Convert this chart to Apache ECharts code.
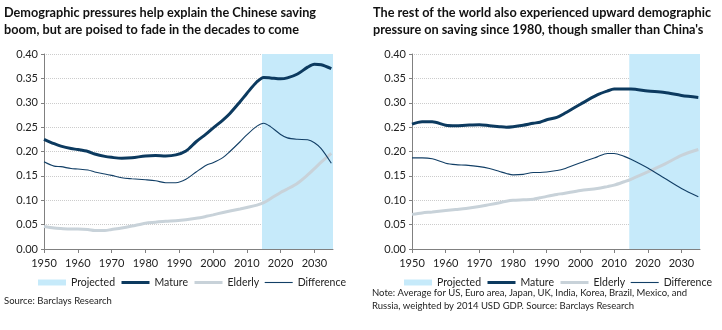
<!DOCTYPE html>
<html><head><meta charset="utf-8">
<script src="https://cdn.jsdelivr.net/npm/echarts@6/dist/echarts.min.js"></script>
<style>html,body{margin:0;padding:0;background:#fff}#c{width:722px;height:330px}</style>
</head><body><div id="c"></div>
<script>
// ---- Data ----
var titleCN = "Demographic pressures help explain the Chinese saving\nboom, but are poised to fade in the decades to come";
var titleWorld = "The rest of the world also experienced upward demographic\npressure on saving since 1980, though smaller than China's";
var sourceCN = "Source: Barclays Research";
var sourceWorld = "Note: Average for US, Euro area, Japan, UK, India, Korea, Brazil, Mexico, and\nRussia, weighted by 2014 USD GDP. Source: Barclays Research";
var legendNames = ["Projected", "Mature", "Elderly", "Difference"];
var yTicks = [0, 0.05, 0.10, 0.15, 0.20, 0.25, 0.30, 0.35, 0.40];
var xTicks = [1950, 1960, 1970, 1980, 1990, 2000, 2010, 2020, 2030];
var projectedRange = [2014.5, 2035.5];

var yearsCN = [1950,1953,1955,1958,1960,1963,1965,1968,1970,1973,1976,1980,1983,1986,1989,1992,1995,1998,2000,2003,2005,2008,2010,2013,2015,2017,2020,2022,2025,2028,2030,2032,2035];
var matureCN = [0.225,0.216,0.211,0.206,0.204,0.200,0.195,0.190,0.188,0.186,0.187,0.191,0.192,0.191,0.193,0.201,0.220,0.236,0.248,0.265,0.278,0.302,0.319,0.343,0.352,0.351,0.349,0.351,0.359,0.373,0.379,0.378,0.370];
var elderlyCN = [0.046,0.043,0.042,0.041,0.041,0.040,0.038,0.038,0.040,0.043,0.047,0.053,0.055,0.057,0.058,0.060,0.063,0.067,0.070,0.075,0.078,0.082,0.085,0.090,0.095,0.103,0.116,0.123,0.135,0.152,0.165,0.178,0.196];
var diffCN = [0.179,0.170,0.169,0.165,0.164,0.162,0.158,0.154,0.151,0.146,0.144,0.142,0.140,0.136,0.136,0.143,0.158,0.172,0.177,0.188,0.200,0.220,0.234,0.252,0.258,0.251,0.235,0.228,0.225,0.224,0.218,0.206,0.176];

var yearsWorld = [1950,1953,1956,1960,1963,1966,1970,1973,1976,1978,1980,1983,1986,1988,1990,1993,1995,2000,2005,2008,2010,2013,2015,2020,2025,2030,2035];
var matureWorld = [0.256,0.261,0.261,0.254,0.253,0.254,0.255,0.253,0.251,0.250,0.251,0.254,0.258,0.260,0.265,0.270,0.277,0.297,0.316,0.324,0.328,0.328,0.328,0.324,0.321,0.315,0.311];
var elderlyWorld = [0.071,0.074,0.076,0.079,0.081,0.083,0.087,0.091,0.095,0.098,0.100,0.101,0.102,0.105,0.108,0.112,0.114,0.120,0.124,0.128,0.131,0.138,0.143,0.158,0.174,0.192,0.204];
var diffWorld = [0.187,0.187,0.185,0.176,0.173,0.172,0.169,0.165,0.159,0.155,0.152,0.153,0.157,0.157,0.158,0.161,0.164,0.177,0.189,0.196,0.196,0.190,0.184,0.166,0.145,0.124,0.107];

// ---- Styles ----
var FONT = "Lato, 'Open Sans', sans-serif";
var C_MATURE = "#0c3a5f", C_ELDERLY = "#c8d2d9", C_DIFF = "#123f66", C_PROJ = "#c6eafa";

function pairs(xs, ys){ return xs.map(function(x,i){ return [x, ys[i]]; }); }

function axesFor(i){
  return {
    x: {
      type: "value", gridIndex: i, min: 1950, max: projectedRange[1],
      axisLine: {show: true, lineStyle: {color: "#808080", width: 1}},
      axisTick: {show: true, length: 4, lineStyle: {color: "#808080"}, customValues: xTicks},
      axisLabel: {customValues: xTicks, color: "#222", fontSize: 11, fontFamily: FONT, margin: 9,
        formatter: function(v){ return String(Math.round(v)); }},
      splitLine: {show: false}
    },
    y: {
      type: "value", gridIndex: i, min: 0, max: 0.40, interval: 0.05,
      axisLine: {show: true, lineStyle: {color: "#808080", width: 1}},
      axisTick: {show: true, length: 3, lineStyle: {color: "#808080"}},
      axisLabel: {color: "#222", fontSize: 11, fontFamily: FONT, margin: 6,
        formatter: function(v){ return v.toFixed(2); }},
      splitLine: {show: true, lineStyle: {color: "#cccccc", type: [1,1], width: 1}}
    }
  };
}
var a0 = axesFor(0), a1 = axesFor(1);

function seriesFor(i, years, m, e, d){
  return [
    {name: "Projected", type: "line", xAxisIndex: i, yAxisIndex: i, data: [], symbol: "none",
      itemStyle: {color: C_PROJ}, lineStyle: {color: C_PROJ},
      markArea: {silent: true, itemStyle: {color: C_PROJ, opacity: 1},
        data: [[{xAxis: projectedRange[0], yAxis: 0}, {xAxis: projectedRange[1], yAxis: 0.40}]]}},
    {name: "Elderly", type: "line", xAxisIndex: i, yAxisIndex: i, data: pairs(years, e), symbol: "none", smooth: 0.3,
      itemStyle: {color: C_ELDERLY}, lineStyle: {color: C_ELDERLY, width: 3}, z: 3},
    {name: "Difference", type: "line", xAxisIndex: i, yAxisIndex: i, data: pairs(years, d), symbol: "none", smooth: 0.3,
      itemStyle: {color: C_DIFF}, lineStyle: {color: C_DIFF, width: 1.1}, z: 4},
    {name: "Mature", type: "line", xAxisIndex: i, yAxisIndex: i, data: pairs(years, m), symbol: "none", smooth: 0.3,
      itemStyle: {color: C_MATURE}, lineStyle: {color: C_MATURE, width: 3}, z: 5}
  ];
}

function legendFor(left){
  var hidden = {opacity: 0, color: "rgba(0,0,0,0)", borderWidth: 0};
  return {
    left: left, top: 277, padding: 0, itemWidth: 28, itemHeight: 6, itemGap: 5,
    textStyle: {fontSize: 10.5, fontFamily: FONT, color: "#222"},
    selectedMode: false,
    data: [
      {name: "Projected", icon: "rect", itemStyle: {color: C_PROJ}},
      {name: "Mature", itemStyle: hidden, lineStyle: {width: 3, color: C_MATURE}},
      {name: "Elderly", itemStyle: hidden, lineStyle: {width: 3, color: C_ELDERLY}},
      {name: "Difference", itemStyle: hidden, lineStyle: {width: 1.1, color: C_DIFF}}
    ]
  };
}

var chart = echarts.init(document.getElementById("c"), null, {renderer: "canvas"});
chart.setOption({
  animation: false,
  backgroundColor: "#fff",
  title: [
    {text: titleCN, left: 4, top: 4, padding: 0, textStyle: {fontSize: 12.7, fontWeight: "bold", fontFamily: FONT, color: "#111", lineHeight: 17}},
    {text: titleWorld, left: 373, top: 4, padding: 0, textStyle: {fontSize: 12.7, fontWeight: "bold", fontFamily: FONT, color: "#111", lineHeight: 17}}
  ],
  grid: [
    {left: 44, right: 389, top: 54, bottom: 81, containLabel: false},
    {left: 412, right: 22, top: 54, bottom: 81, containLabel: false}
  ],
  xAxis: [a0.x, a1.x],
  yAxis: [a0.y, a1.y],
  legend: [legendFor(38), legendFor(404)],
  series: seriesFor(0, yearsCN, matureCN, elderlyCN, diffCN).concat(seriesFor(1, yearsWorld, matureWorld, elderlyWorld, diffWorld)),
  graphic: [
    {type: "text", left: 4, top: 296, style: {text: sourceCN, fontSize: 9.5, fontFamily: FONT, fill: "#222"}},
    {type: "text", left: 372, top: 286, style: {text: sourceWorld, fontSize: 9.5, fontFamily: FONT, fill: "#222", lineHeight: 13}}
  ]
});
</script></body></html>
